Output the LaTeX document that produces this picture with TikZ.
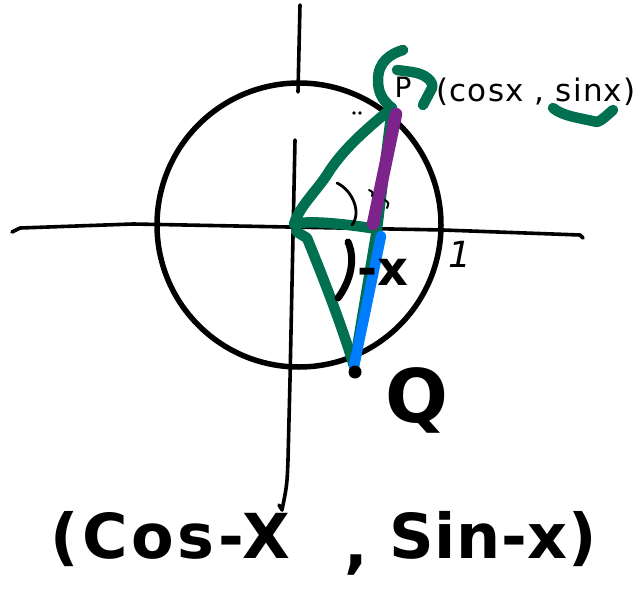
\documentclass[tikz,border=0pt]{standalone}
\usepackage{fontspec}
\setmainfont{DejaVu Sans}
\newfontfamily\handbold[LetterSpace=6]{DejaVu Sans Bold}
\newfontfamily\handboldn[LetterSpace=1]{DejaVu Sans Bold}
\newfontfamily\handtop[LetterSpace=4]{DejaVu Sans}
\definecolor{pgreen}{RGB}{0,112,80}
\definecolor{ppurple}{RGB}{125,35,140}
\definecolor{pblue}{RGB}{0,125,255}
\begin{document}
\begin{tikzpicture}[x=1pt,y=-1pt,
  axis/.style={line width=3.6pt,line cap=round,line join=round,black},
  gstroke/.style={line width=10.5pt,line cap=round,line join=round,pgreen},
  pstroke/.style={line width=12.5pt,line cap=round,ppurple},
  bstroke/.style={line width=10.5pt,line cap=round,pblue},
  lbl/.style={inner sep=0pt,black}]
\useasboundingbox (0,0) rectangle (637,594);
% points
\coordinate (O) at (294,224);
\coordinate (P) at (392,108);
\coordinate (M) at (377,229);
\coordinate (Q) at (354,366);
% axes
\coordinate (xl) at (12,232);
\coordinate (xr) at (583,238);
\draw[axis] (xl) -- (20,228) -- (133,224) -- (443,230) -- (580,235) -- (xr);
\coordinate (yt) at (300,5);
\draw[axis] (yt) -- (298,92);
\coordinate (yb) at (282,510);
\draw[axis] (295,140) -- (290,380) -- (288,460) .. controls (287,485) .. (yb) -- (279,505);
% circle
\node[draw,circle,line width=5.5pt,minimum size=284pt,inner sep=0pt] (C) at (299,225) {};
% green triangle
\draw[gstroke] (O) .. controls (300,205) and (318,190) .. (330,170)
  .. controls (345,148) and (365,130) .. (P);
\draw[gstroke] (O) .. controls (310,220) and (345,224) .. (M);
\draw[gstroke] (P) -- (M);
\draw[gstroke] (297,232) -- (307,238) .. controls (320,270) and (340,320) .. (Q);
\draw[gstroke] (M) -- (Q);
% green squiggles near P
\coordinate (g1) at (403,50);
\draw[gstroke] (g1) .. controls (390,54) and (378,62) .. (378,80)
  .. controls (378,92) and (382,100) .. (P);
\coordinate (g2) at (397,70);
\draw[gstroke] (g2) -- (412,72) .. controls (426,74) and (434,82) .. (432,88) -- (423,105);
\coordinate (u1) at (553,108);
\draw[gstroke] (u1) .. controls (562,116) and (580,118) .. (597,122)
  .. controls (603,120) and (608,114) .. (613,110);
% purple and blue
\draw[pstroke] (396,114) -- (373,224);
\draw[bstroke] (381,236) -- (Q);
% Q dot
\fill[black] (Q) ++(1,6) circle (6.5pt);
% angle arcs
\draw[line width=2.8pt,line cap=round] (337,183) .. controls (352,190) and (362,212) .. (352,225);
\fill (354,113) circle (1.8pt) (360,113) circle (1.8pt);
\draw[line width=2pt,line cap=round] (369,190) .. controls (373,192) .. (372,196);
\draw[line width=2pt,line cap=round] (385,200) .. controls (389,203) .. (387,208);
\draw[line width=7pt,line cap=round] (348,242) .. controls (356,260) and (350,282) .. (338,298);
% labels
\node[lbl,font=\fontsize{28}{28}\selectfont] (Plbl) at (403,87) {P};
\node[lbl,anchor=west,font=\fontsize{31}{31}\handtop] (coord) at (436,92) {(cosx , sinx)};
\node[lbl,font=\fontsize{36}{36}\selectfont\itshape] (one) at (460,254) {1};
\node[lbl,font=\fontsize{48}{48}\selectfont\bfseries] (mx) at (383,272) {-x};
\node[lbl,font=\fontsize{74}{74}\selectfont\bfseries] (Qlbl) at (417,400) {Q};
\node[lbl,anchor=base west,font=\fontsize{62}{62}\handbold] (bl) at (50,558) {(Cos-X};
\node[lbl,anchor=base,font=\fontsize{62}{62}\handbold] (comma) at (356,566) {,};
\node[lbl,anchor=base east,font=\fontsize{62}{62}\handboldn] (br) at (597,558) {Sin-x)};
\end{tikzpicture}
\end{document}
